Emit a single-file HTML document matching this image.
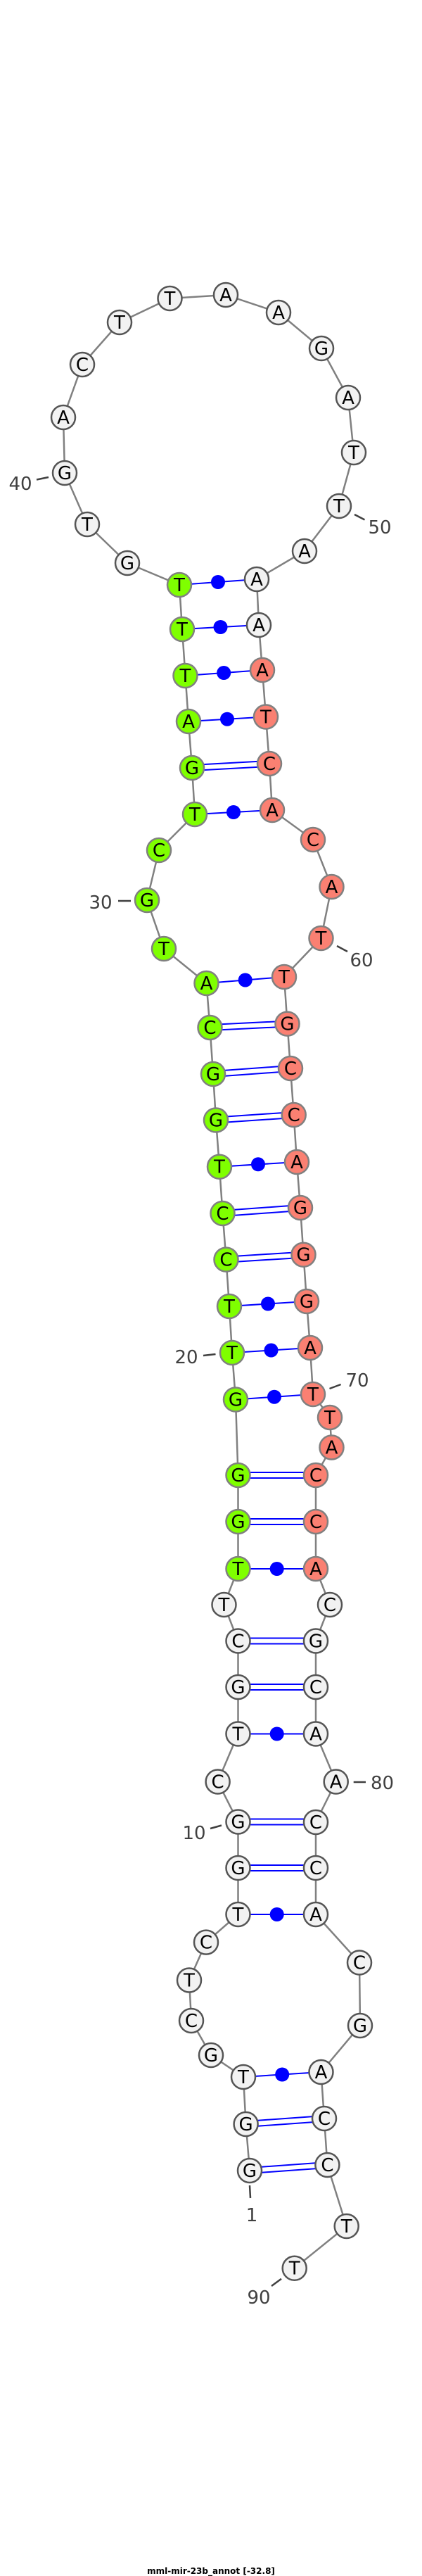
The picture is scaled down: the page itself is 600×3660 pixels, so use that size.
<!DOCTYPE html>
<html><head><meta charset="utf-8"><style>
html,body{margin:0;padding:0;background:#fff;width:600px;height:3660px;overflow:hidden}
svg{display:block}
.n text{font-family:"DejaVu Sans","Liberation Sans",sans-serif;font-size:26px;text-anchor:middle;fill:#000}
.w{fill:#f2f2f2;stroke:#555;stroke-width:2.5}
.g{fill:#7fff00;stroke:#808080;stroke-width:2.5}
.r{fill:#fa8072;stroke:#808080;stroke-width:2.5}
.lb{font-family:"DejaVu Sans","Liberation Sans",sans-serif;font-size:26px;fill:#404040;text-anchor:middle}
.tk{stroke:#404040;stroke-width:2.5}
.p{stroke:#0000ff;stroke-width:2}
</style></head><body>
<svg width="600" height="3660" viewBox="0 0 600 3660" xmlns="http://www.w3.org/2000/svg">
<polyline fill="none" stroke="#808080" stroke-width="2.5" points="355,3084 349.6,3018 346,2951 300,2920 272,2871 269,2813.5 293,2759.6 338.5,2720 338.5,2654 338.5,2588.5 309.6,2531.5 338.5,2463.5 338.5,2397 338.5,2331.5 318.5,2280 338.5,2229 338.5,2162 338.5,2096 335,1988.5 330,1922 326,1856 321.5,1789.6 316.5,1724 312,1657.7 307,1591.5 303,1526 298.5,1460 293.5,1397 233,1348 209,1279 226,1208 277,1157 273,1091 268,1025 263.5,960 259,894 255,831 181,800 124,745 92,672 90,593 117,518 170,458 241.5,424 321,419 396,444 457,495 495,565 503,643 482,719 433,783 365,823 368,888 373,952 378,1018.5 383,1085 387,1151 445,1193 471.5,1260 456.5,1333 404,1388 408.5,1454.6 413,1518 417.7,1584 422,1651 427,1716 431.5,1782.7 436,1849 441,1915 445,1981 469,2014 471.5,2056.5 449,2096 449,2162 449,2229 469,2280 449,2331.5 449,2397 449,2463.5 477.7,2531.5 449,2589 449,2654 449,2720 511,2788.5 512,2878 456.5,2944 461,3010 465.4,3076 492.7,3163 418.7,3222.7"/>
<g class="p" fill="#0000ff">
<!-- double pairs -->
<line x1="355" y1="3080" x2="465.4" y2="3072"/><line x1="355" y1="3088" x2="465.4" y2="3080"/>
<line x1="349.6" y1="3014" x2="461" y2="3006"/><line x1="349.6" y1="3022" x2="461" y2="3014"/>
<line x1="338.5" y1="2650" x2="449" y2="2650"/><line x1="338.5" y1="2658" x2="449" y2="2658"/>
<line x1="338.5" y1="2584.5" x2="449" y2="2584.5"/><line x1="338.5" y1="2592.5" x2="449" y2="2592.5"/>
<line x1="338.5" y1="2393" x2="449" y2="2393"/><line x1="338.5" y1="2401" x2="449" y2="2401"/>
<line x1="338.5" y1="2327.5" x2="449" y2="2327.5"/><line x1="338.5" y1="2335.5" x2="449" y2="2335.5"/>
<line x1="338.5" y1="2158" x2="449" y2="2158"/><line x1="338.5" y1="2166" x2="449" y2="2166"/>
<line x1="338.5" y1="2092" x2="449" y2="2092"/><line x1="338.5" y1="2100" x2="449" y2="2100"/>
<line x1="321.5" y1="1785.6" x2="431.5" y2="1778.7"/><line x1="321.5" y1="1793.6" x2="431.5" y2="1786.7"/>
<line x1="316.5" y1="1720" x2="427" y2="1712"/><line x1="316.5" y1="1728" x2="427" y2="1720"/>
<line x1="307" y1="1587.5" x2="417.7" y2="1580"/><line x1="307" y1="1595.5" x2="417.7" y2="1588"/>
<line x1="303" y1="1522" x2="413" y2="1514"/><line x1="303" y1="1530" x2="413" y2="1522"/>
<line x1="298.5" y1="1456" x2="408.5" y2="1450.6"/><line x1="298.5" y1="1464" x2="408.5" y2="1458.6"/>
<line x1="273" y1="1087" x2="383" y2="1081"/><line x1="273" y1="1095" x2="383" y2="1089"/>
<!-- single pairs -->
<line x1="346" y1="2951" x2="456.5" y2="2944"/><circle cx="401.2" cy="2947.5" r="10" stroke="none"/>
<line x1="338.5" y1="2720" x2="449" y2="2720"/><circle cx="393.7" cy="2720" r="10" stroke="none"/>
<line x1="338.5" y1="2463.5" x2="449" y2="2463.5"/><circle cx="393.7" cy="2463.5" r="10" stroke="none"/>
<line x1="338.5" y1="2229" x2="449" y2="2229"/><circle cx="393.7" cy="2229" r="10" stroke="none"/>
<line x1="335" y1="1988.5" x2="445" y2="1981"/><circle cx="390" cy="1984.7" r="10" stroke="none"/>
<line x1="330" y1="1922" x2="441" y2="1915"/><circle cx="385.5" cy="1918.5" r="10" stroke="none"/>
<line x1="326" y1="1856" x2="436" y2="1849"/><circle cx="381" cy="1852.5" r="10" stroke="none"/>
<line x1="312" y1="1657.7" x2="422" y2="1651"/><circle cx="367" cy="1654.3" r="10" stroke="none"/>
<line x1="293.5" y1="1397" x2="404" y2="1388"/><circle cx="348.7" cy="1392.5" r="10" stroke="none"/>
<line x1="277" y1="1157" x2="387" y2="1151"/><circle cx="332" cy="1154" r="10" stroke="none"/>
<line x1="268" y1="1025" x2="378" y2="1018.5"/><circle cx="323" cy="1021.7" r="10" stroke="none"/>
<line x1="263.5" y1="960" x2="373" y2="952"/><circle cx="318.2" cy="956" r="10" stroke="none"/>
<line x1="259" y1="894" x2="368" y2="888"/><circle cx="313.5" cy="891" r="10" stroke="none"/>
<line x1="255" y1="831" x2="365" y2="823"/><circle cx="310" cy="827" r="10" stroke="none"/>
</g>
<g class="n">
<circle class="w" cx="355" cy="3084" r="17"/><text x="355" y="3093">G</text>
<circle class="w" cx="349.6" cy="3018" r="17"/><text x="349.6" y="3027">G</text>
<circle class="w" cx="346" cy="2951" r="17"/><text x="346" y="2960">T</text>
<circle class="w" cx="300" cy="2920" r="17"/><text x="300" y="2929">G</text>
<circle class="w" cx="272" cy="2871" r="17"/><text x="272" y="2880">C</text>
<circle class="w" cx="269" cy="2813.5" r="17"/><text x="269" y="2822.5">T</text>
<circle class="w" cx="293" cy="2759.6" r="17"/><text x="293" y="2768.6">C</text>
<circle class="w" cx="338.5" cy="2720" r="17"/><text x="338.5" y="2729">T</text>
<circle class="w" cx="338.5" cy="2654" r="17"/><text x="338.5" y="2663">G</text>
<circle class="w" cx="338.5" cy="2588.5" r="17"/><text x="338.5" y="2597.5">G</text>
<circle class="w" cx="309.6" cy="2531.5" r="17"/><text x="309.6" y="2540.5">C</text>
<circle class="w" cx="338.5" cy="2463.5" r="17"/><text x="338.5" y="2472.5">T</text>
<circle class="w" cx="338.5" cy="2397" r="17"/><text x="338.5" y="2406">G</text>
<circle class="w" cx="338.5" cy="2331.5" r="17"/><text x="338.5" y="2340.5">C</text>
<circle class="w" cx="318.5" cy="2280" r="17"/><text x="318.5" y="2289">T</text>
<circle class="g" cx="338.5" cy="2229" r="17"/><text x="338.5" y="2238">T</text>
<circle class="g" cx="338.5" cy="2162" r="17"/><text x="338.5" y="2171">G</text>
<circle class="g" cx="338.5" cy="2096" r="17"/><text x="338.5" y="2105">G</text>
<circle class="g" cx="335" cy="1988.5" r="17"/><text x="335" y="1997.5">G</text>
<circle class="g" cx="330" cy="1922" r="17"/><text x="330" y="1931">T</text>
<circle class="g" cx="326" cy="1856" r="17"/><text x="326" y="1865">T</text>
<circle class="g" cx="321.5" cy="1789.6" r="17"/><text x="321.5" y="1798.6">C</text>
<circle class="g" cx="316.5" cy="1724" r="17"/><text x="316.5" y="1733">C</text>
<circle class="g" cx="312" cy="1657.7" r="17"/><text x="312" y="1666.7">T</text>
<circle class="g" cx="307" cy="1591.5" r="17"/><text x="307" y="1600.5">G</text>
<circle class="g" cx="303" cy="1526" r="17"/><text x="303" y="1535">G</text>
<circle class="g" cx="298.5" cy="1460" r="17"/><text x="298.5" y="1469">C</text>
<circle class="g" cx="293.5" cy="1397" r="17"/><text x="293.5" y="1406">A</text>
<circle class="g" cx="233" cy="1348" r="17"/><text x="233" y="1357">T</text>
<circle class="g" cx="209" cy="1279" r="17"/><text x="209" y="1288">G</text>
<circle class="g" cx="226" cy="1208" r="17"/><text x="226" y="1217">C</text>
<circle class="g" cx="277" cy="1157" r="17"/><text x="277" y="1166">T</text>
<circle class="g" cx="273" cy="1091" r="17"/><text x="273" y="1100">G</text>
<circle class="g" cx="268" cy="1025" r="17"/><text x="268" y="1034">A</text>
<circle class="g" cx="263.5" cy="960" r="17"/><text x="263.5" y="969">T</text>
<circle class="g" cx="259" cy="894" r="17"/><text x="259" y="903">T</text>
<circle class="g" cx="255" cy="831" r="17"/><text x="255" y="840">T</text>
<circle class="w" cx="181" cy="800" r="17"/><text x="181" y="809">G</text>
<circle class="w" cx="124" cy="745" r="17"/><text x="124" y="754">T</text>
<circle class="w" cx="92" cy="672" r="17"/><text x="92" y="681">G</text>
<circle class="w" cx="90" cy="593" r="17"/><text x="90" y="602">A</text>
<circle class="w" cx="117" cy="518" r="17"/><text x="117" y="527">C</text>
<circle class="w" cx="170" cy="458" r="17"/><text x="170" y="467">T</text>
<circle class="w" cx="241.5" cy="424" r="17"/><text x="241.5" y="433">T</text>
<circle class="w" cx="321" cy="419" r="17"/><text x="321" y="428">A</text>
<circle class="w" cx="396" cy="444" r="17"/><text x="396" y="453">A</text>
<circle class="w" cx="457" cy="495" r="17"/><text x="457" y="504">G</text>
<circle class="w" cx="495" cy="565" r="17"/><text x="495" y="574">A</text>
<circle class="w" cx="503" cy="643" r="17"/><text x="503" y="652">T</text>
<circle class="w" cx="482" cy="719" r="17"/><text x="482" y="728">T</text>
<circle class="w" cx="433" cy="783" r="17"/><text x="433" y="792">A</text>
<circle class="w" cx="365" cy="823" r="17"/><text x="365" y="832">A</text>
<circle class="w" cx="368" cy="888" r="17"/><text x="368" y="897">A</text>
<circle class="r" cx="373" cy="952" r="17"/><text x="373" y="961">A</text>
<circle class="r" cx="378" cy="1018.5" r="17"/><text x="378" y="1027.5">T</text>
<circle class="r" cx="383" cy="1085" r="17"/><text x="383" y="1094">C</text>
<circle class="r" cx="387" cy="1151" r="17"/><text x="387" y="1160">A</text>
<circle class="r" cx="445" cy="1193" r="17"/><text x="445" y="1202">C</text>
<circle class="r" cx="471.5" cy="1260" r="17"/><text x="471.5" y="1269">A</text>
<circle class="r" cx="456.5" cy="1333" r="17"/><text x="456.5" y="1342">T</text>
<circle class="r" cx="404" cy="1388" r="17"/><text x="404" y="1397">T</text>
<circle class="r" cx="408.5" cy="1454.6" r="17"/><text x="408.5" y="1463.6">G</text>
<circle class="r" cx="413" cy="1518" r="17"/><text x="413" y="1527">C</text>
<circle class="r" cx="417.7" cy="1584" r="17"/><text x="417.7" y="1593">C</text>
<circle class="r" cx="422" cy="1651" r="17"/><text x="422" y="1660">A</text>
<circle class="r" cx="427" cy="1716" r="17"/><text x="427" y="1725">G</text>
<circle class="r" cx="431.5" cy="1782.7" r="17"/><text x="431.5" y="1791.7">G</text>
<circle class="r" cx="436" cy="1849" r="17"/><text x="436" y="1858">G</text>
<circle class="r" cx="441" cy="1915" r="17"/><text x="441" y="1924">A</text>
<circle class="r" cx="445" cy="1981" r="17"/><text x="445" y="1990">T</text>
<circle class="r" cx="469" cy="2014" r="17"/><text x="469" y="2023">T</text>
<circle class="r" cx="471.5" cy="2056.5" r="17"/><text x="471.5" y="2065.5">A</text>
<circle class="r" cx="449" cy="2096" r="17"/><text x="449" y="2105">C</text>
<circle class="r" cx="449" cy="2162" r="17"/><text x="449" y="2171">C</text>
<circle class="r" cx="449" cy="2229" r="17"/><text x="449" y="2238">A</text>
<circle class="w" cx="469" cy="2280" r="17"/><text x="469" y="2289">C</text>
<circle class="w" cx="449" cy="2331.5" r="17"/><text x="449" y="2340.5">G</text>
<circle class="w" cx="449" cy="2397" r="17"/><text x="449" y="2406">C</text>
<circle class="w" cx="449" cy="2463.5" r="17"/><text x="449" y="2472.5">A</text>
<circle class="w" cx="477.7" cy="2531.5" r="17"/><text x="477.7" y="2540.5">A</text>
<circle class="w" cx="449" cy="2589" r="17"/><text x="449" y="2598">C</text>
<circle class="w" cx="449" cy="2654" r="17"/><text x="449" y="2663">C</text>
<circle class="w" cx="449" cy="2720" r="17"/><text x="449" y="2729">A</text>
<circle class="w" cx="511" cy="2788.5" r="17"/><text x="511" y="2797.5">C</text>
<circle class="w" cx="512" cy="2878" r="17"/><text x="512" y="2887">G</text>
<circle class="w" cx="456.5" cy="2944" r="17"/><text x="456.5" y="2953">A</text>
<circle class="w" cx="461" cy="3010" r="17"/><text x="461" y="3019">C</text>
<circle class="w" cx="465.4" cy="3076" r="17"/><text x="465.4" y="3085">C</text>
<circle class="w" cx="492.7" cy="3163" r="17"/><text x="492.7" y="3172">T</text>
<circle class="w" cx="418.7" cy="3222.7" r="17"/><text x="418.7" y="3231.7">T</text>
</g>
<g class="tk">
<line x1="52" y1="681.5" x2="69" y2="678"/>
<line x1="504" y1="731" x2="518.5" y2="738.5"/>
<line x1="168" y1="1280" x2="186" y2="1280"/>
<line x1="479" y1="1344" x2="494" y2="1352"/>
<line x1="289" y1="1926" x2="306.5" y2="1924"/>
<line x1="468.5" y1="1973" x2="484.6" y2="1967"/>
<line x1="502.7" y1="2532" x2="520" y2="2532"/>
<line x1="299" y1="2598" x2="315" y2="2593.5"/>
<line x1="355" y1="3105" x2="356" y2="3123"/>
<line x1="386" y1="3248" x2="400" y2="3237.7"/>
</g>
<g class="lb">
<text x="29" y="696">40</text>
<text x="540" y="758">50</text>
<text x="143" y="1291">30</text>
<text x="514" y="1373">60</text>
<text x="265" y="1937">20</text>
<text x="508" y="1970">70</text>
<text x="543.5" y="2542">80</text>
<text x="276" y="2613">10</text>
<text x="358" y="3156">1</text>
<text x="368" y="3273">90</text>
</g>
<text x="300" y="3657" text-anchor="middle" font-family="'DejaVu Sans','Liberation Sans',sans-serif" font-size="12" font-weight="bold" fill="#000">mml-mir-23b_annot [-32.8]</text>
</svg>
</body></html>
